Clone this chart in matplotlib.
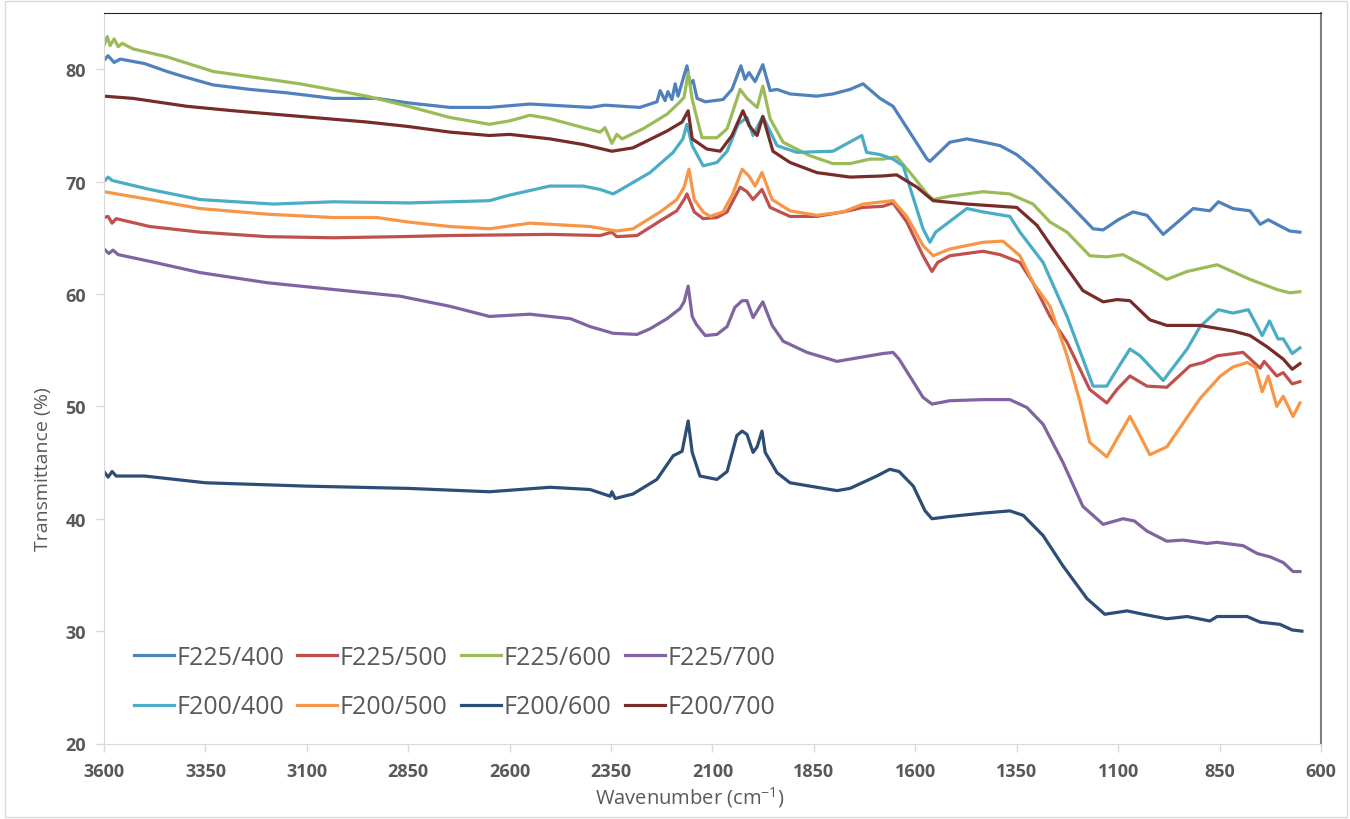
import matplotlib
matplotlib.use("Agg")
import matplotlib.pyplot as plt
from matplotlib.patches import Rectangle

plt.rcParams['font.family'] = ['Open Sans', 'DejaVu Sans']
plt.rcParams['mathtext.fontset'] = 'custom'
plt.rcParams['mathtext.rm'] = 'Open Sans'

# --- datos (número de onda en cm-1, transmitancia en %) ---
wn_225_400 = [3600, 3590, 3575, 3560, 3500, 3445, 3400, 3331, 3240, 3150, 3035, 2927, 2850, 2747, 2650, 2550,
              2500, 2400, 2365, 2279, 2237, 2229, 2217, 2210, 2200, 2192, 2185, 2163, 2155, 2148, 2138, 2118,
              2074, 2052, 2030, 2020, 2010, 1995, 1976, 1958, 1941, 1909, 1843, 1803, 1761, 1729, 1687, 1655,
              1571, 1564, 1515, 1473, 1430, 1391, 1350, 1310, 1226, 1162, 1137, 1100, 1063, 1029, 989, 950,
              915, 874, 853, 817, 775, 750, 730, 709, 677, 652]
t_225_400 = [80.8, 81.2, 80.6, 80.9, 80.5, 79.8, 79.3, 78.6, 78.2, 77.9, 77.4, 77.4, 77.0, 76.6, 76.6, 76.9,
             76.8, 76.6, 76.8, 76.6, 77.1, 78.1, 77.2, 78.0, 77.3, 78.7, 77.6, 80.3, 78.7, 79.0, 77.4, 77.1,
             77.3, 78.2, 80.3, 79.1, 79.7, 78.9, 80.4, 78.1, 78.2, 77.8, 77.6, 77.8, 78.2, 78.7, 77.4, 76.7,
             72.0, 71.8, 73.5, 73.8, 73.5, 73.2, 72.4, 71.2, 68.2, 65.8, 65.7, 66.6, 67.3, 67.0, 65.3, 66.5,
             67.6, 67.4, 68.2, 67.6, 67.4, 66.2, 66.6, 66.2, 65.6, 65.5]

wn_225_500 = [3600, 3590, 3580, 3570, 3487, 3363, 3198, 3035, 2870, 2747, 2501, 2377, 2348, 2336, 2286, 2229,
              2188, 2170, 2163, 2145, 2123, 2089, 2064, 2032, 2015, 2000, 1978, 1958, 1909, 1843, 1778, 1729,
              1680, 1655, 1621, 1581, 1559, 1545, 1515, 1433, 1391, 1342, 1310, 1268, 1226, 1170, 1128, 1103,
              1071, 1029, 980, 923, 890, 856, 792, 750, 740, 709, 693, 671, 652]
t_225_500 = [66.8, 66.9, 66.3, 66.7, 66.0, 65.5, 65.1, 65.0, 65.1, 65.2, 65.3, 65.2, 65.5, 65.1, 65.2, 66.5,
             67.4, 68.4, 68.9, 67.3, 66.7, 66.8, 67.3, 69.5, 69.1, 68.4, 69.3, 67.7, 66.9, 66.9, 67.3, 67.7,
             67.8, 68.1, 66.4, 63.4, 62.0, 62.8, 63.4, 63.8, 63.5, 62.8, 61.0, 58.0, 55.7, 51.5, 50.3, 51.5,
             52.7, 51.8, 51.7, 53.6, 53.9, 54.5, 54.8, 53.4, 54.0, 52.7, 53.0, 52.0, 52.2]

wn_225_600 = [3600, 3592, 3585, 3575, 3565, 3555, 3528, 3445, 3331, 3117, 2952, 2850, 2747, 2650, 2600, 2550,
              2501, 2377, 2365, 2348, 2336, 2323, 2271, 2212, 2180, 2170, 2160, 2150, 2126, 2089, 2064, 2032,
              2015, 1990, 1976, 1958, 1926, 1860, 1803, 1761, 1712, 1680, 1646, 1613, 1571, 1556, 1515, 1433,
              1367, 1310, 1268, 1226, 1170, 1128, 1088, 1046, 980, 930, 856, 775, 709, 677, 652]
t_225_600 = [82.1, 82.9, 82.1, 82.7, 82.0, 82.3, 81.8, 81.1, 79.8, 78.7, 77.6, 76.7, 75.7, 75.1, 75.4, 75.9,
             75.6, 74.4, 74.8, 73.4, 74.2, 73.8, 74.7, 76.0, 77.1, 77.5, 79.7, 77.3, 73.9, 73.9, 74.7, 78.2,
             77.4, 76.6, 78.5, 75.6, 73.5, 72.3, 71.6, 71.6, 72.0, 72.0, 72.2, 70.8, 68.9, 68.4, 68.7, 69.1,
             68.9, 68.0, 66.4, 65.5, 63.4, 63.3, 63.5, 62.7, 61.3, 62.0, 62.6, 61.3, 60.4, 60.1, 60.2]

wn_225_700 = [3600, 3588, 3578, 3565, 3487, 3363, 3198, 3035, 2870, 2747, 2650, 2550, 2450, 2402, 2345, 2286,
              2254, 2212, 2180, 2170, 2160, 2150, 2140, 2118, 2089, 2064, 2045, 2027, 2015, 2000, 1976, 1953,
              1926, 1867, 1793, 1761, 1680, 1655, 1640, 1581, 1559, 1515, 1433, 1367, 1325, 1285, 1236, 1187,
              1137, 1088, 1060, 1029, 980, 940, 881, 856, 792, 757, 725, 693, 669, 652]
t_225_700 = [64.0, 63.6, 63.9, 63.5, 62.9, 61.9, 61.0, 60.4, 59.8, 58.9, 58.0, 58.2, 57.8, 57.1, 56.5, 56.4,
             56.9, 57.8, 58.7, 59.3, 60.7, 58.0, 57.3, 56.3, 56.4, 57.1, 58.8, 59.4, 59.4, 57.9, 59.3, 57.2,
             55.8, 54.8, 54.0, 54.2, 54.7, 54.8, 54.2, 50.8, 50.2, 50.5, 50.6, 50.6, 49.9, 48.4, 45.0, 41.1,
             39.5, 40.0, 39.8, 38.9, 38.0, 38.1, 37.8, 37.9, 37.6, 36.9, 36.6, 36.1, 35.3, 35.3]

wn_200_400 = [3600, 3590, 3580, 3487, 3363, 3183, 3035, 2850, 2747, 2650, 2600, 2501, 2419, 2377, 2345, 2330,
              2254, 2197, 2173, 2163, 2150, 2123, 2089, 2064, 2037, 2015, 2000, 1976, 1941, 1892, 1803, 1732,
              1720, 1687, 1655, 1630, 1581, 1564, 1550, 1473, 1433, 1367, 1342, 1285, 1226, 1162, 1128, 1113,
              1071, 1046, 989, 930, 898, 853, 817, 779, 745, 727, 706, 693, 671, 652]
t_200_400 = [70.0, 70.4, 70.1, 69.3, 68.4, 68.0, 68.2, 68.1, 68.2, 68.3, 68.8, 69.6, 69.6, 69.3, 68.9, 69.2,
             70.8, 72.6, 73.8, 75.1, 73.2, 71.4, 71.7, 72.7, 75.1, 75.7, 74.1, 75.8, 73.2, 72.6, 72.7, 74.1,
             72.6, 72.4, 72.0, 71.4, 65.8, 64.6, 65.5, 67.6, 67.3, 66.9, 65.5, 62.8, 58.0, 51.8, 51.8, 52.7,
             55.1, 54.5, 52.3, 55.1, 57.1, 58.6, 58.3, 58.6, 56.3, 57.6, 56.0, 56.0, 54.7, 55.2]

wn_200_500 = [3600, 3487, 3363, 3198, 3035, 2927, 2850, 2747, 2650, 2550, 2501, 2402, 2336, 2296, 2229, 2188,
              2170, 2158, 2145, 2123, 2106, 2074, 2050, 2027, 2010, 1995, 1978, 1953, 1909, 1843, 1778, 1729,
              1680, 1655, 1621, 1581, 1556, 1515, 1433, 1384, 1342, 1310, 1268, 1226, 1194, 1170, 1128, 1103,
              1071, 1046, 1022, 980, 898, 848, 817, 782, 762, 745, 730, 709, 693, 669, 652]
t_200_500 = [69.1, 68.4, 67.6, 67.1, 66.8, 66.8, 66.4, 66.0, 65.8, 66.3, 66.2, 66.0, 65.6, 65.8, 67.3, 68.4,
             69.5, 71.1, 68.4, 67.3, 66.9, 67.3, 68.9, 71.1, 70.5, 69.6, 70.8, 68.4, 67.4, 67.0, 67.3, 68.0,
             68.2, 68.3, 66.9, 64.3, 63.4, 64.0, 64.6, 64.7, 63.4, 61.0, 58.9, 54.5, 50.4, 46.8, 45.5, 47.1,
             49.1, 47.4, 45.7, 46.4, 50.7, 52.7, 53.5, 53.9, 53.5, 51.3, 52.7, 50.0, 50.9, 49.1, 50.3]

wn_200_600 = [3600, 3590, 3580, 3570, 3500, 3350, 3100, 2850, 2650, 2500, 2402, 2352, 2348, 2340, 2296, 2237,
              2197, 2175, 2160, 2150, 2131, 2089, 2064, 2040, 2027, 2015, 2000, 1990, 1978, 1970, 1941, 1909,
              1843, 1793, 1761, 1695, 1663, 1640, 1605, 1576, 1559, 1515, 1433, 1367, 1334, 1285, 1236, 1177,
              1133, 1078, 1038, 980, 930, 874, 856, 782, 750, 701, 671, 647]
t_200_600 = [44.2, 43.7, 44.2, 43.8, 43.8, 43.2, 42.9, 42.7, 42.4, 42.8, 42.6, 42.0, 42.4, 41.8, 42.2, 43.5,
             45.6, 46.0, 48.7, 45.9, 43.8, 43.5, 44.2, 47.4, 47.8, 47.5, 45.9, 46.4, 47.8, 45.9, 44.1, 43.2,
             42.8, 42.5, 42.7, 43.8, 44.4, 44.2, 42.9, 40.7, 40.0, 40.2, 40.5, 40.7, 40.3, 38.5, 35.8, 32.9,
             31.5, 31.8, 31.5, 31.1, 31.3, 30.9, 31.3, 31.3, 30.8, 30.6, 30.1, 30.0]

wn_200_700 = [3600, 3528, 3396, 3281, 3117, 2952, 2850, 2747, 2650, 2600, 2501, 2419, 2348, 2296, 2212, 2175,
              2160, 2150, 2114, 2081, 2052, 2025, 2010, 1990, 1976, 1951, 1909, 1843, 1761, 1680, 1646, 1596,
              1556, 1473, 1391, 1350, 1300, 1260, 1187, 1137, 1103, 1071, 1022, 980, 898, 817, 775, 733,
              693, 671, 652]
t_200_700 = [77.6, 77.4, 76.7, 76.3, 75.8, 75.3, 74.9, 74.4, 74.1, 74.2, 73.8, 73.3, 72.7, 73.0, 74.5, 75.3,
             76.3, 73.8, 72.9, 72.7, 74.1, 76.3, 75.0, 74.1, 75.8, 72.7, 71.7, 70.8, 70.4, 70.5, 70.6, 69.5,
             68.3, 68.0, 67.8, 67.7, 66.1, 64.0, 60.3, 59.3, 59.5, 59.4, 57.7, 57.2, 57.2, 56.7, 56.3, 55.3,
             54.2, 53.3, 53.8]

labels = ['F225/400', 'F225/500', 'F225/600', 'F225/700',
          'F200/400', 'F200/500', 'F200/600', 'F200/700']
series_x = [wn_225_400, wn_225_500, wn_225_600, wn_225_700,
            wn_200_400, wn_200_500, wn_200_600, wn_200_700]
series_y = [t_225_400, t_225_500, t_225_600, t_225_700,
            t_200_400, t_200_500, t_200_600, t_200_700]
colors = ['#4F81BD', '#C0504D', '#9BBB59', '#8064A2',
          '#4BACC6', '#F79646', '#2C4D75', '#772C2A']

x_ticks = [3600, 3350, 3100, 2850, 2600, 2350, 2100, 1850, 1600, 1350, 1100, 850, 600]
y_ticks = [20, 30, 40, 50, 60, 70, 80]

gray = '#595959'

fig = plt.figure(figsize=(13.5, 8.2), dpi=100, facecolor='white')
ax = fig.add_axes([104 / 1350, 1 - 744.5 / 820, 1217 / 1350, 730.5 / 820])

handles = []
for x, y, c, lab in zip(series_x, series_y, colors, labels):
    h, = ax.plot(x, y, color=c, linewidth=2.3, label=lab)
    handles.append(h)

ax.set_xlim(3600, 600)
ax.set_ylim(20, 85)
ax.set_xticks(x_ticks)
ax.set_yticks(y_ticks)
ax.tick_params(axis='both', direction='out', length=6, width=1, color='#D9D9D9',
               labelsize=13, labelcolor=gray, pad=7)
for lbl in ax.get_xticklabels() + ax.get_yticklabels():
    lbl.set_fontweight('bold')

# ejes: izquierda/abajo gris claro, arriba negro, derecha gris oscuro
ax.spines['left'].set_color('#D9D9D9')
ax.spines['bottom'].set_color('#D9D9D9')
ax.spines['top'].set_color('#262626')
ax.spines['right'].set_color('#808080')
ax.spines['right'].set_linewidth(1.5)

ax.set_ylabel('Transmittance (%)', fontsize=14, color=gray)
ax.yaxis.set_label_coords(-0.043, 0.377)
ax.set_xlabel(r'Wavenumber (cm$^{\mathregular{-1}}$)', fontsize=14.5, color=gray)
ax.xaxis.set_label_coords(0.4815, -0.056)

# leyenda en dos filas (orden por filas)
order = [0, 4, 1, 5, 2, 6, 3, 7]
leg = ax.legend([handles[i] for i in order], [labels[i] for i in order], ncol=4,
                loc='upper left', bbox_to_anchor=(0.0245, 0.135), frameon=False,
                fontsize=18, handlelength=1.6, handletextpad=0.1, columnspacing=0.53,
                labelspacing=0.98, borderaxespad=0, borderpad=0)
for t in leg.get_texts():
    t.set_color(gray)

# marco exterior del gráfico
fig.patches.append(Rectangle((5 / 1350, 2 / 820), 1342 / 1350, 816 / 820, transform=fig.transFigure,
                             fill=False, edgecolor='#D9D9D9', linewidth=1))

plt.savefig('out.png', dpi=100)
